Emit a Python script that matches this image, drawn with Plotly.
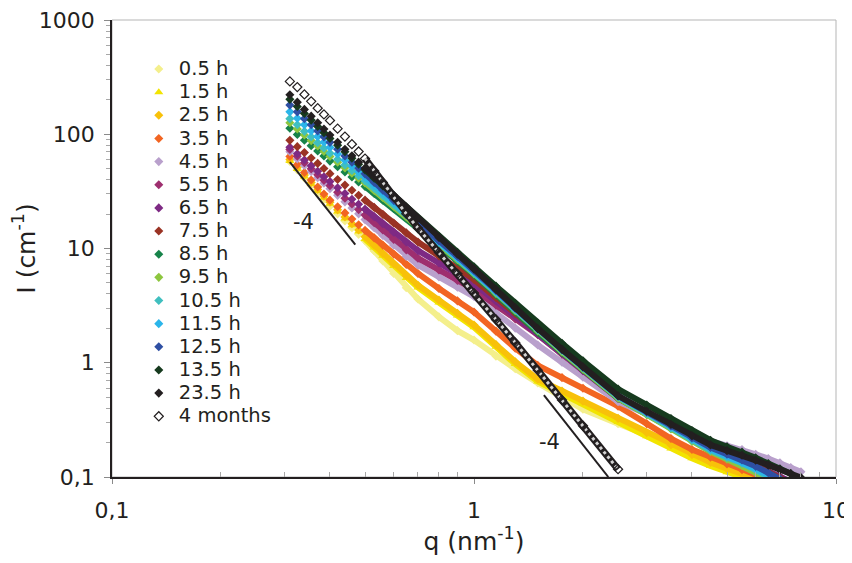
import plotly.graph_objects as go
import math

# ---------------- data ----------------
q = [0.31, 0.325, 0.34, 0.355, 0.37, 0.385, 0.40, 0.42, 0.44, 0.46, 0.48, 0.50,
     0.53, 0.56, 0.60, 0.65, 0.70, 0.80, 0.90, 1.0, 1.15, 1.3, 1.5, 1.75, 2.0,
     2.5, 3.0, 3.5, 4.0, 4.5, 5.0, 5.5, 6.0, 6.5, 7.0, 7.5, 8.0]

I_0_5h = [57.8, 48.8, 41.5, 35.6, 30.7, 26.7, 23.4, 20.1, 17.4, 15.2, 13.3, 11.7,
          9.51, 7.78, 6.05, 4.53, 3.61, 2.52, 1.91, 1.58, 1.14, 0.885, 0.667, 0.500, 0.392,
          0.293, 0.232, 0.194, 0.167, 0.142, 0.119, 0.103, 0.089, 0.080, 0.073, 0.067, 0.062]
I_1_5h = [58.2, 49.7, 42.6, 36.7, 31.9, 27.8, 24.6, 21.1, 18.3, 16.0, 14.1, 12.1,
          10.2, 8.63, 7.02, 5.51, 4.56, 3.37, 2.59, 2.04, 1.38, 0.974, 0.686, 0.541, 0.440,
          0.303, 0.227, 0.178, 0.146, 0.125, 0.110, 0.0995, 0.091, 0.083, 0.077, 0.072, 0.067]
I_2_5h = [60.0, 51.2, 43.9, 37.8, 32.9, 28.7, 25.4, 21.8, 18.9, 16.5, 14.5, 12.7,
          10.7, 9.04, 7.35, 5.77, 4.77, 3.53, 2.71, 2.14, 1.44, 1.02, 0.718, 0.566, 0.461,
          0.326, 0.244, 0.191, 0.157, 0.134, 0.118, 0.107, 0.098, 0.089, 0.083, 0.078, 0.072]
I_3_5h = [64.0, 54.2, 46.3, 39.8, 34.5, 30.0, 26.5, 23.2, 20.5, 18.1, 16.1, 14.4,
          12.4, 10.7, 8.93, 7.26, 6.05, 4.47, 3.48, 2.78, 1.89, 1.34, 0.948, 0.741, 0.598,
          0.417, 0.293, 0.217, 0.174, 0.149, 0.130, 0.116, 0.105, 0.095, 0.087, 0.079, 0.072]
I_4_5h = [70.2, 60.8, 53.3, 47.1, 41.7, 37.3, 33.4, 29.2, 25.6, 22.6, 20.1, 17.9,
          15.2, 13.0, 10.7, 8.51, 7.16, 5.65, 4.58, 3.80, 2.72, 2.01, 1.43, 1.01, 0.748,
          0.456, 0.356, 0.288, 0.240, 0.206, 0.188, 0.174, 0.158, 0.145, 0.133, 0.121, 0.111]
I_5_5h = [73.5, 64.2, 56.3, 49.8, 44.2, 39.5, 35.5, 31.1, 27.5, 24.5, 21.9, 19.6,
          16.8, 14.5, 12.0, 9.73, 8.22, 6.49, 5.26, 4.37, 3.19, 2.42, 1.76, 1.19, 0.851,
          0.490, 0.365, 0.279, 0.217, 0.179, 0.156, 0.139, 0.123, 0.109, 0.097, 0.087, 0.078]
I_6_5h = [77.0, 67.6, 59.6, 53.1, 47.4, 42.5, 38.5, 34.0, 30.3, 27.0, 24.4, 22.1,
          19.0, 16.5, 13.9, 11.4, 9.59, 7.46, 5.97, 4.90, 3.47, 2.56, 1.80, 1.21, 0.857,
          0.490, 0.368, 0.282, 0.219, 0.181, 0.158, 0.141, 0.126, 0.112, 0.101, 0.091, 0.082]
I_7_5h = [88.4, 77.9, 69.1, 61.9, 55.6, 50.1, 45.2, 40.2, 35.9, 32.3, 29.2, 26.5,
          22.9, 19.9, 16.7, 13.7, 11.4, 8.61, 6.70, 5.37, 3.72, 2.69, 1.85, 1.24, 0.880,
          0.501, 0.365, 0.278, 0.219, 0.181, 0.158, 0.141, 0.125, 0.111, 0.099, 0.088, 0.079]
I_8_5h = [113, 99.5, 88.6, 79.5, 71.3, 64.5, 58.2, 52.0, 46.7, 42.2, 38.2, 34.9,
          30.3, 26.5, 22.4, 18.4, 14.9, 10.5, 7.78, 5.89, 3.96, 2.78, 1.85, 1.23, 0.868,
          0.490, 0.353, 0.267, 0.210, 0.172, 0.149, 0.132, 0.115, 0.102, 0.090, 0.079, 0.070]
I_9_5h = [126, 111, 98.5, 88.0, 78.8, 70.8, 63.8, 56.8, 50.8, 45.5, 41.2, 37.4,
          32.2, 28.0, 23.4, 19.1, 15.5, 10.9, 7.97, 6.03, 4.05, 2.85, 1.90, 1.25, 0.879,
          0.490, 0.351, 0.263, 0.205, 0.167, 0.143, 0.126, 0.109, 0.096, 0.084, 0.074, 0.065]
I_10_5h = [137, 121, 106, 94.8, 84.4, 75.7, 68.3, 60.5, 53.9, 48.1, 43.3, 39.2,
           33.7, 29.1, 24.4, 19.8, 16.0, 11.2, 8.18, 6.17, 4.14, 2.91, 1.94, 1.28, 0.90,
           0.501, 0.359, 0.269, 0.210, 0.171, 0.148, 0.132, 0.115, 0.100, 0.088, 0.077, 0.069]
I_11_5h = [157, 138, 121, 107, 95.4, 85.1, 76.7, 67.1, 59.2, 52.5, 46.7, 42.0,
           35.7, 30.7, 25.4, 20.4, 16.4, 11.4, 8.38, 6.31, 4.24, 2.98, 1.99, 1.31, 0.92,
           0.513, 0.367, 0.276, 0.215, 0.176, 0.152, 0.135, 0.118, 0.104, 0.092, 0.081, 0.072]
I_12_5h = [180, 157, 137, 121, 107, 94.9, 84.9, 73.8, 64.6, 56.9, 50.4, 45.0,
           37.9, 32.3, 26.4, 20.9, 16.8, 11.7, 8.56, 6.46, 4.30, 3.00, 1.99, 1.31, 0.92,
           0.513, 0.370, 0.280, 0.220, 0.181, 0.158, 0.141, 0.124, 0.109, 0.097, 0.085, 0.075]
I_13_5h = [202, 175, 152, 133, 117, 103, 92.0, 80.0, 70.2, 61.7, 54.7, 48.8,
           41.3, 35.3, 29.0, 23.0, 18.5, 12.8, 9.24, 6.92, 4.68, 3.31, 2.23, 1.48, 1.04,
           0.589, 0.427, 0.324, 0.255, 0.210, 0.184, 0.165, 0.147, 0.131, 0.118, 0.107, 0.094]
I_23_5h = [222, 191, 165, 144, 126, 111, 98.6, 85.1, 74.0, 64.7, 57.0, 50.5,
           42.4, 35.9, 29.2, 23.0, 18.3, 12.5, 8.93, 6.61, 4.37, 3.03, 1.99, 1.31, 0.92,
           0.513, 0.376, 0.288, 0.229, 0.191, 0.170, 0.155, 0.140, 0.127, 0.116, 0.107, 0.099]
I_4_months = [290, 259, 223, 194, 169, 149, 132, 112, 95.5, 81.8, 70.6, 61.2,
              47.7, 37.8, 28.2, 20.1, 15.1, 9.23, 6.00, 4.07, 2.39, 1.50, 0.861, 0.472, 0.281,
              0.117, None, None, None, None, None, None, None, None, None, None, None]

series_names = ["0.5 h", "1.5 h", "2.5 h", "3.5 h", "4.5 h", "5.5 h", "6.5 h", "7.5 h",
                "8.5 h", "9.5 h", "10.5 h", "11.5 h", "12.5 h", "13.5 h", "23.5 h", "4 months"]
series_values = [I_0_5h, I_1_5h, I_2_5h, I_3_5h, I_4_5h, I_5_5h, I_6_5h, I_7_5h,
                 I_8_5h, I_9_5h, I_10_5h, I_11_5h, I_12_5h, I_13_5h, I_23_5h, I_4_months]
series_colors = ["#F4EF8C", "#F2E400", "#F8C10A", "#F26522", "#B9A0CC", "#9E2F6F",
                 "#7E2A84", "#9A3324", "#17834A", "#8DC63F", "#40BFBF", "#2BB5EA",
                 "#2E4FA3", "#163A1E", "#231F20", "#231F20"]
series_symbols = ["diamond", "triangle-up"] + ["diamond"] * 13 + ["diamond-open"]

# guide lines of slope -4
slope1_q = [0.31, 0.47]
slope1_I = [57.0, 10.8]
slope2_q = [1.56, 2.35]
slope2_I = [0.52, 0.100]
slope_label_pos = [(0.338, 17.0), (1.62, 0.202)]

x_ticks = [0.1, 1, 10]
x_ticktext = ["0,1", "1", "10"]
y_ticks = [0.1, 1, 10, 100, 1000]
y_ticktext = ["0,1", "1", "10", "100", "1000"]
x_minor = [0.2, 0.3, 0.4, 0.5, 0.6, 0.7, 0.8, 0.9, 2, 3, 4, 5, 6, 7, 8, 9]
y_minor = [m * d for d in (0.1, 1, 10, 100) for m in range(2, 10)]

# ---------------- figure ----------------
FONT = "DejaVu Sans, Verdana, sans-serif"
INK = "#231F20"
LINE_START = 11  # beyond this point the measured points merge into a band
LEG_TEXT = '<span style="font-size:19.5px">{}</span>'

fig = go.Figure()
for name, vals, col, sym in zip(series_names, series_values, series_colors, series_symbols):
    xs = [a for a, b in zip(q[LINE_START:], vals[LINE_START:]) if b is not None]
    ys = [b for b in vals[LINE_START:] if b is not None]
    if name == "4 months":
        fig.add_trace(go.Scatter(x=xs, y=ys, mode="lines", showlegend=False, hoverinfo="skip",
                                 line=dict(color=col, width=7)))
        fig.add_trace(go.Scatter(x=xs, y=ys, mode="lines", showlegend=False, hoverinfo="skip",
                                 line=dict(color="rgba(255,255,255,0.8)", width=3, dash="dot")))
        fig.add_trace(go.Scatter(x=q, y=vals, mode="markers", name=LEG_TEXT.format(name),
                                 marker=dict(symbol=sym, size=7, color=col, line=dict(width=1.2))))
    else:
        fig.add_trace(go.Scatter(x=xs, y=ys, mode="lines", showlegend=False, hoverinfo="skip",
                                 line=dict(color=col, width=6)))
        fig.add_trace(go.Scatter(x=q, y=vals, mode="markers", name=LEG_TEXT.format(name),
                                 marker=dict(symbol=sym, size=8 if sym == "triangle-up" else 7,
                                             color=col, line=dict(width=0))))

for sq, si in ((slope1_q, slope1_I), (slope2_q, slope2_I)):
    fig.add_trace(go.Scatter(x=sq, y=si, mode="lines", showlegend=False, hoverinfo="skip",
                             line=dict(color=INK, width=2)))

for (lq, li) in slope_label_pos:
    fig.add_annotation(x=math.log10(lq), y=math.log10(li), text="-4", showarrow=False,
                       font=dict(size=21, color=INK, family=FONT))

fig.add_shape(type="rect", xref="paper", yref="paper", x0=0, y0=0, x1=1, y1=1,
              line=dict(color="#B5B5B5", width=1), layer="below")

# the page adds an 8 px body margin, so the figure is sized to fill the rest of the window
fig.update_layout(
    width=844, height=555,
    margin=dict(l=104, r=16, t=12, b=86, autoexpand=False),
    paper_bgcolor="white", plot_bgcolor="white",
    font=dict(family=FONT, color=INK, size=18),
    legend=dict(x=0.037, y=0.929, xanchor="left", yanchor="top",
                bgcolor="rgba(0,0,0,0)", font=dict(size=15.5, family=FONT, color=INK),
                tracegroupgap=0, itemwidth=30),
    showlegend=True,
)
fig.update_xaxes(
    type="log", range=[-1, 1], tickvals=x_ticks, ticktext=x_ticktext, automargin=False,
    ticks="outside", ticklen=5, tickcolor="#8A8A8A", tickwidth=1, ticklabeloverflow="allow",
    showline=True, linecolor=INK, linewidth=1.5, showgrid=False, zeroline=False,
    minor=dict(tickvals=x_minor, ticks="inside", ticklen=5, tickcolor="#A8A8A8", showgrid=False),
    tickfont=dict(size=22, family=FONT, color=INK), ticklabelstandoff=8,
    title=dict(text="q (nm<sup>-1</sup>)", font=dict(size=25, family=FONT, color=INK), standoff=6),
)
fig.update_yaxes(
    type="log", range=[-1, 3], tickvals=y_ticks, ticktext=y_ticktext, automargin=False,
    ticks="outside", ticklen=6, tickcolor="#8A8A8A", tickwidth=1, ticklabeloverflow="allow",
    showline=True, linecolor=INK, linewidth=1.5, showgrid=False, zeroline=False,
    minor=dict(tickvals=y_minor, ticks="outside", ticklen=4, tickcolor="#A8A8A8", showgrid=False),
    tickfont=dict(size=22, family=FONT, color=INK), ticklabelstandoff=5,
    title=dict(text="\u00a0" * 6 + "I (cm<sup>-1</sup>)",
               font=dict(size=25, family=FONT, color=INK), standoff=4),
)

fig.write_html("out.html")
